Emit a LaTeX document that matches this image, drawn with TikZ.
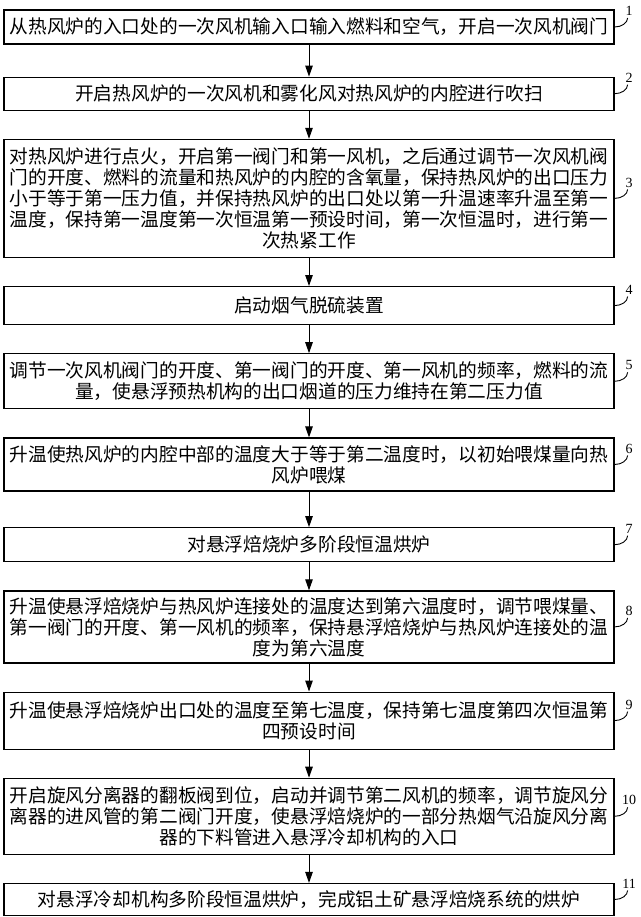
\documentclass[tikz,border=0pt]{standalone}
\usepackage{fontspec}
\usepackage{tikz}
\usetikzlibrary{positioning, arrows.meta}
\newfontfamily\cjkfont{Noto Sans CJK SC}
\newfontfamily\numfont{Liberation Serif}

\begin{document}
\begin{tikzpicture}[
	node distance=28pt,
	stepbox/.style={draw, line width=1.2pt, text width=600pt, align=center, inner xsep=5pt, inner ysep=0pt, minimum height=#1, font=\cjkfont\fontsize{18.7pt}{21pt}\selectfont},
	stepbox/.default=34pt,
	numlabel/.style={inner sep=0pt, anchor=south, font=\numfont\fontsize{14pt}{14pt}\selectfont},
	edge/.style={draw, line width=1pt, -{Triangle[length=11pt,width=7.5pt]}},
	lead/.style={draw, line width=0.9pt}
	]
	\useasboundingbox (0,0) rectangle (640pt,-917pt);
	
	% Define nodes
	\node (s1) [stepbox] at (309pt,-27pt) {从热风炉的入口处的一次风机输入口输入燃料和空气，开启一次风机阀门};
	\node (s2) [stepbox=33pt, below=32pt of s1] {开启热风炉的一次风机和雾化风对热风炉的内腔进行吹扫};
	\node (s3) [stepbox=118pt, below=of s2] {对热风炉进行点火，开启第一阀门和第一风机，之后通过调节一次风机阀\\门的开度、燃料的流量和热风炉的内腔的含氧量，保持热风炉的出口压力\\小于等于第一压力值，并保持热风炉的出口处以第一升温速率升温至第一\\温度，保持第一温度第一次恒温第一预设时间，第一次恒温时，进行第一\\次热紧工作};
	\node (s4) [stepbox=38pt, below=of s3] {启动烟气脱硫装置};
	\node (s5) [stepbox=55pt, below=of s4] {调节一次风机阀门的开度、第一阀门的开度、第一风机的频率，燃料的流\\量，使悬浮预热机构的出口烟道的压力维持在第二压力值};
	\node (s6) [stepbox=53pt, below=of s5] {升温使热风炉的内腔中部的温度大于等于第二温度时，以初始喂煤量向热\\风炉喂煤};
	\node (s7) [stepbox, below=35.5pt of s6] {对悬浮焙烧炉多阶段恒温烘炉};
	\node (s8) [stepbox=72pt, below=of s7] {升温使悬浮焙烧炉与热风炉连接处的温度达到第六温度时，调节喂煤量、\\第一阀门的开度、第一风机的频率，保持悬浮焙烧炉与热风炉连接处的温\\度为第六温度};
	\node (s9) [stepbox=57pt, below=of s8] {升温使悬浮焙烧炉出口处的温度至第七温度，保持第七温度第四次恒温第\\四预设时间};
	\node (s10) [stepbox=76pt, below=of s9] {开启旋风分离器的翻板阀到位，启动并调节第二风机的频率，调节旋风分\\离器的进风管的第二阀门开度，使悬浮焙烧炉的一部分热烟气沿旋风分离\\器的下料管进入悬浮冷却机构的入口};
	\node (s11) [stepbox=32pt, below=of s10] {对悬浮冷却机构多阶段恒温烘炉，完成铝土矿悬浮焙烧系统的烘炉};
	
	% Draw edges
	\path [edge] (s1) -- (s2);
	\path [edge] (s2) -- (s3);
	\path [edge] (s3) -- (s4);
	\path [edge] (s4) -- (s5);
	\path [edge] (s5) -- (s6);
	\path [edge] (s6) -- (s7);
	\path [edge] (s7) -- (s8);
	\path [edge] (s8) -- (s9);
	\path [edge] (s9) -- (s10);
	\path [edge] (s10) -- (s11);
	
	% Step numbers
	\node (n1) [numlabel] at ([xshift=14.5pt,yshift=11pt]s1.east) {1};
	\node (n2) [numlabel] at ([xshift=14.5pt,yshift=11pt]s2.east) {2};
	\node (n3) [numlabel] at ([xshift=14.5pt,yshift=11pt]s3.east) {3};
	\node (n4) [numlabel] at ([xshift=14.5pt,yshift=11pt]s4.east) {4};
	\node (n5) [numlabel] at ([xshift=14.5pt,yshift=11pt]s5.east) {5};
	\node (n6) [numlabel] at ([xshift=14.5pt,yshift=11pt]s6.east) {6};
	\node (n7) [numlabel] at ([xshift=14.5pt,yshift=11pt]s7.east) {7};
	\node (n8) [numlabel] at ([xshift=14.5pt,yshift=11pt]s8.east) {8};
	\node (n9) [numlabel] at ([xshift=14.5pt,yshift=11pt]s9.east) {9};
	\node (n10) [numlabel] at ([xshift=14.5pt,yshift=11pt]s10.east) {10};
	\node (n11) [numlabel] at ([xshift=14.5pt,yshift=11pt]s11.east) {11};
	
	% Draw leaders
	\path [lead] (s1.east) .. controls +(7pt,0pt) and +(0pt,-5pt) .. ([xshift=-1.5pt,yshift=-2pt]n1.south);
	\path [lead] (s2.east) .. controls +(7pt,0pt) and +(0pt,-5pt) .. ([xshift=-1.5pt,yshift=-2pt]n2.south);
	\path [lead] (s3.east) .. controls +(7pt,0pt) and +(0pt,-5pt) .. ([xshift=-1.5pt,yshift=-2pt]n3.south);
	\path [lead] (s4.east) .. controls +(7pt,0pt) and +(0pt,-5pt) .. ([xshift=-1.5pt,yshift=-2pt]n4.south);
	\path [lead] (s5.east) .. controls +(7pt,0pt) and +(0pt,-5pt) .. ([xshift=-1.5pt,yshift=-2pt]n5.south);
	\path [lead] (s6.east) .. controls +(7pt,0pt) and +(0pt,-5pt) .. ([xshift=-1.5pt,yshift=-2pt]n6.south);
	\path [lead] (s7.east) .. controls +(7pt,0pt) and +(0pt,-5pt) .. ([xshift=-1.5pt,yshift=-2pt]n7.south);
	\path [lead] (s8.east) .. controls +(7pt,0pt) and +(0pt,-5pt) .. ([xshift=-1.5pt,yshift=-2pt]n8.south);
	\path [lead] (s9.east) .. controls +(7pt,0pt) and +(0pt,-5pt) .. ([xshift=-1.5pt,yshift=-2pt]n9.south);
	\path [lead] (s10.east) .. controls +(7pt,0pt) and +(0pt,-5pt) .. ([xshift=-1.5pt,yshift=-2pt]n10.south);
	\path [lead] (s11.east) .. controls +(7pt,0pt) and +(0pt,-5pt) .. ([xshift=-1.5pt,yshift=-2pt]n11.south);
	
\end{tikzpicture}
\end{document}
